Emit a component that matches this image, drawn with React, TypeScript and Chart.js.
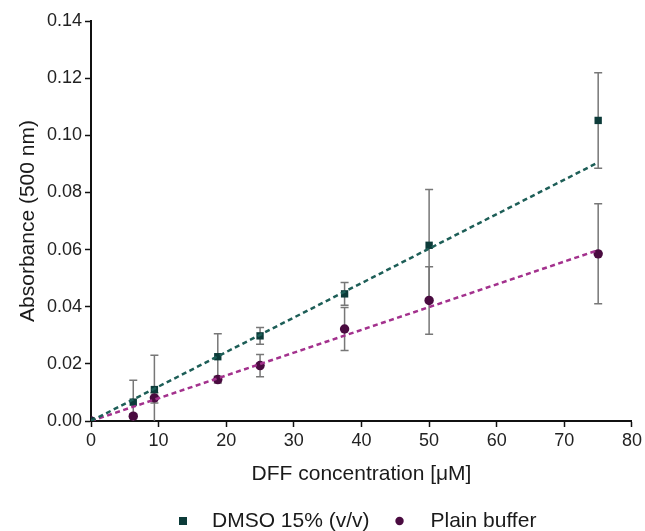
import React, { useEffect, useRef } from "react";
import { Chart, registerables } from "chart.js";

Chart.register(...registerables);

const concentrations = [0, 6.25, 9.375, 18.75, 25, 37.5, 50, 75];
const dmsoMean = [0, 0.0066, 0.011, 0.0225, 0.0298, 0.0445, 0.0615, 0.1052];
const dmsoError = [0, 0.0077, 0.012, 0.008, 0.0029, 0.004, 0.0195, 0.0167];
const plainMean = [0, 0.0017, 0.0081, 0.0145, 0.0194, 0.0322, 0.0422, 0.0585];
const plainError = [0, 0.0008, 0.0018, 0.0012, 0.0039, 0.0075, 0.0118, 0.0175];
const dmsoFitX = [0, 75];
const dmsoFitY = [0, 0.0905];
const plainFitX = [0, 75];
const plainFitY = [0, 0.0598];
const xTicks = [0, 10, 20, 30, 40, 50, 60, 70, 80];
const yTicks = [0, 0.02, 0.04, 0.06, 0.08, 0.1, 0.12, 0.14];
const legendLabels = ["DMSO 15% (v/v)", "Plain buffer"];

const DMSO_COLOR = "#0c3b39";
const DMSO_LINE = "#1d5e57";
const PLAIN_COLOR = "#4a0b40";
const PLAIN_LINE = "#a3318d";
const FONT = "'Liberation Sans', Arial, sans-serif";

const toPoints = (xs: number[], ys: number[]) => xs.map((x, i) => ({ x, y: ys[i] }));

const errorBarPlugin = {
  id: "errorBars",
  beforeDatasetsDraw(chart: any) {
    const { ctx, scales } = chart;
    const xs = scales.x;
    const ys = scales.y;
    const series = [
      { mean: dmsoMean, err: dmsoError },
      { mean: plainMean, err: plainError },
    ];
    ctx.save();
    ctx.strokeStyle = "#777777";
    ctx.lineWidth = 1.5;
    series.forEach((s) => {
      concentrations.forEach((c, i) => {
        const e = s.err[i];
        if (!e) return;
        const px = xs.getPixelForValue(c);
        const top = ys.getPixelForValue(s.mean[i] + e);
        const bot = ys.getPixelForValue(Math.max(0, s.mean[i] - e));
        ctx.beginPath();
        ctx.moveTo(px, top);
        ctx.lineTo(px, bot);
        ctx.moveTo(px - 4, top);
        ctx.lineTo(px + 4, top);
        if (s.mean[i] - e > 0) {
          ctx.moveTo(px - 4, bot);
          ctx.lineTo(px + 4, bot);
        }
        ctx.stroke();
      });
    });
    ctx.restore();
  },
};

const customLegendPlugin = {
  id: "customLegend",
  afterDraw(chart: any) {
    const { ctx } = chart;
    const y = 521;
    ctx.save();
    ctx.font = `21px ${FONT}`;
    ctx.textBaseline = "middle";
    const w1 = ctx.measureText(legendLabels[0]).width;
    const markerGap = 29;
    const itemGap = 30;
    let x = 183;
    ctx.fillStyle = DMSO_COLOR;
    ctx.fillRect(x - 4, y - 4, 8, 8);
    ctx.fillStyle = "#1a1a1a";
    ctx.fillText(legendLabels[0], x + markerGap, y);
    x = x + markerGap + w1 + itemGap;
    ctx.fillStyle = PLAIN_COLOR;
    ctx.beginPath();
    ctx.arc(x, y, 4.2, 0, Math.PI * 2);
    ctx.fill();
    ctx.fillStyle = "#1a1a1a";
    ctx.fillText(legendLabels[1], x + markerGap + 2, y);
    ctx.restore();
  },
};

export default function App() {
  const ref = useRef<HTMLCanvasElement | null>(null);

  useEffect(() => {
    document.body.style.margin = "0";
    const canvas = ref.current;
    if (!canvas) return;
    const chart = new Chart(canvas, {
      type: "scatter",
      data: {
        datasets: [
          {
            label: "DMSO fit",
            type: "line",
            data: toPoints(dmsoFitX, dmsoFitY),
            borderColor: DMSO_LINE,
            borderWidth: 2.5,
            borderDash: [5, 3.5],
            pointRadius: 0,
            fill: false,
          },
          {
            label: "Plain fit",
            type: "line",
            data: toPoints(plainFitX, plainFitY),
            borderColor: PLAIN_LINE,
            borderWidth: 2.5,
            borderDash: [5, 3.5],
            pointRadius: 0,
            fill: false,
          },
          {
            label: legendLabels[0],
            data: toPoints(concentrations, dmsoMean),
            pointStyle: "rect",
            pointRadius: 5.2,
            backgroundColor: DMSO_COLOR,
            borderColor: DMSO_COLOR,
            borderWidth: 0,
          },
          {
            label: legendLabels[1],
            data: toPoints(concentrations, plainMean),
            pointStyle: "circle",
            pointRadius: 4.7,
            backgroundColor: PLAIN_COLOR,
            borderColor: PLAIN_COLOR,
            borderWidth: 0,
          },
        ],
      },
      options: {
        responsive: false,
        animation: false,
        layout: { padding: { top: 21, right: 13, bottom: 32, left: 0 } },
        plugins: {
          legend: { display: false },
          tooltip: { enabled: false },
        },
        scales: {
          x: {
            type: "linear",
            min: 0,
            max: 80,
            afterBuildTicks: (scale: any) => {
              scale.ticks = xTicks.map((v) => ({ value: v }));
            },
            afterFit: (scale: any) => {
              scale.height = 78;
            },
            ticks: {
              font: { family: FONT, size: 18 },
              color: "#222",
              padding: 3,
              maxRotation: 0,
            },
            grid: {
              drawOnChartArea: false,
              drawTicks: true,
              tickLength: 6,
              tickColor: "#111",
              tickWidth: 1.5,
            },
            border: { display: true, color: "#111", width: 2 },
            title: {
              display: true,
              text: "DFF concentration [μM]",
              font: { family: FONT, size: 21 },
              color: "#1a1a1a",
              padding: { top: 0, bottom: 12 },
            },
          },
          y: {
            type: "linear",
            min: 0,
            max: 0.14,
            afterBuildTicks: (scale: any) => {
              scale.ticks = yTicks.map((v) => ({ value: v }));
            },
            afterFit: (scale: any) => {
              scale.width = 91;
            },
            ticks: {
              font: { family: FONT, size: 18 },
              color: "#222",
              padding: 3,
              callback: (v: any) => Number(v).toFixed(2),
            },
            grid: {
              drawOnChartArea: false,
              drawTicks: true,
              tickLength: 6,
              tickColor: "#111",
              tickWidth: 1.5,
            },
            border: { display: true, color: "#111", width: 2 },
            title: {
              display: true,
              text: "Absorbance (500 nm)",
              font: { family: FONT, size: 21 },
              color: "#1a1a1a",
              padding: { top: 16, bottom: 0 },
            },
          },
        },
      },
      plugins: [errorBarPlugin, customLegendPlugin],
    } as any);
    return () => chart.destroy();
  }, []);

  return <canvas ref={ref} width={645} height={531} style={{ display: "block" }} />;
}
